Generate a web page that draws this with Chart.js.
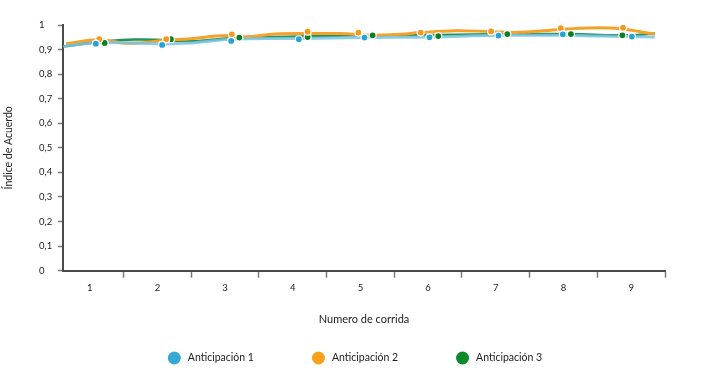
<!DOCTYPE html>
<html>
<head>
<meta charset="utf-8">
<title>Índice de Acuerdo por corrida</title>
<script src="https://cdn.jsdelivr.net/npm/chart.js@4.4.1/dist/chart.umd.min.js"></script>
<style>
  html, body { margin: 0; padding: 0; background: #fff; }
</style>
</head>
<body>
<canvas id="grafico" width="702" height="374"></canvas>
<script>
// Numeros de corrida (etiquetas del eje X) y limites entre corridas
const corridas = [1, 2, 3, 4, 5, 6, 7, 8, 9];
const limites = [1.5, 2.5, 3.5, 4.5, 5.5, 6.5, 7.5, 8.5, 9.5];

const nombres = ['Anticipación 1', 'Anticipación 2', 'Anticipación 3'];

// Puntos medidos (x = posicion dentro de la corrida)
const xAnt1 = [1.09, 2.07, 3.09, 4.09, 5.06, 6.02, 7.04, 7.99, 9.01];
const yAnt1 = [0.924, 0.919, 0.935, 0.942, 0.949, 0.950, 0.957, 0.962, 0.953];
const xAnt2 = [1.14, 2.13, 3.10, 4.22, 4.97, 5.89, 6.93, 7.96, 8.88];
const yAnt2 = [0.942, 0.942, 0.962, 0.973, 0.969, 0.969, 0.974, 0.987, 0.989];
const xAnt3 = [1.22, 2.20, 3.21, 4.22, 5.18, 6.15, 7.17, 8.11, 8.87];
const yAnt3 = [0.927, 0.942, 0.949, 0.951, 0.958, 0.955, 0.963, 0.963, 0.958];

// Curvas suavizadas de cada anticipacion
const xCurva1 = [0.61, 1.13, 2.07, 2.49, 3.08, 4.10, 5.05, 6.02, 7.03, 7.99, 8.54, 9.35];
const yCurva1 = [0.913, 0.928, 0.924, 0.927, 0.942, 0.945, 0.949, 0.951, 0.958, 0.958, 0.955, 0.951];
const xCurva2 = [0.65, 1.13, 1.48, 1.67, 2.13, 2.49, 2.86, 3.11, 3.30, 3.74, 4.21, 4.70, 5.17, 5.59, 5.88, 6.40, 6.92, 7.36, 7.95, 8.39, 8.83, 9.35];
const yCurva2 = [0.924, 0.940, 0.927, 0.926, 0.938, 0.944, 0.955, 0.957, 0.952, 0.963, 0.965, 0.965, 0.958, 0.962, 0.969, 0.977, 0.973, 0.970, 0.982, 0.988, 0.985, 0.963];
const xCurva3 = [0.61, 1.13, 1.67, 2.13, 2.49, 2.86, 3.21, 3.67, 4.21, 4.99, 6.15, 7.17, 8.11, 8.87, 9.35];
const yCurva3 = [0.913, 0.931, 0.941, 0.938, 0.934, 0.941, 0.949, 0.951, 0.954, 0.958, 0.959, 0.963, 0.963, 0.958, 0.965];

const coloresPunto = ['#27a2d4', '#f7981d', '#0c7d25'];
const coloresCurva = ['rgba(120, 196, 226, 0.85)', '#f8a128', '#23935a'];
const coloresLeyenda = ['#36a9d6', '#f9a11b', '#0b8a2b'];

const fuente = 'Lato, "Noto Sans", sans-serif';

function pares(xs, ys) {
  return xs.map((x, i) => ({ x: x, y: ys[i] }));
}

function curva(xs, ys, i, ancho) {
  return {
    type: 'line',
    label: nombres[i] + ' (curva)',
    data: pares(xs, ys),
    borderColor: coloresCurva[i],
    borderWidth: ancho,
    pointRadius: 0,
    tension: 0.4,
    fill: false,
    order: 2
  };
}

function puntos(xs, ys, i) {
  return {
    type: 'scatter',
    label: nombres[i],
    data: pares(xs, ys),
    showLine: false,
    pointRadius: 3.5,
    pointBackgroundColor: coloresPunto[i],
    pointBorderColor: '#ffffff',
    pointBorderWidth: 1.2,
    order: 1
  };
}

// leyenda con separacion amplia entre elementos
const leyenda = {
  id: 'leyenda',
  afterDraw(chart) {
    const c = chart.ctx;
    const y = chart.height - 16;
    const r = 6.5, sep = 7, gap = 58;
    c.save();
    c.font = '10.5px ' + fuente;
    const anchos = nombres.map(n => 2 * r + sep + c.measureText(n).width);
    const total = anchos.reduce((a, b) => a + b, 0) + gap * (nombres.length - 1);
    let x = chart.width / 2 + 4 - total / 2;
    nombres.forEach((n, i) => {
      c.beginPath();
      c.fillStyle = coloresLeyenda[i];
      c.arc(x + r, y, r, 0, Math.PI * 2);
      c.fill();
      c.fillStyle = '#222';
      c.textBaseline = 'middle';
      c.textAlign = 'left';
      c.fillText(n, x + 2 * r + sep, y);
      x += anchos[i] + gap;
    });
    c.restore();
  }
};

const ctx = document.getElementById('grafico').getContext('2d');
const chart = new Chart(ctx, {
  type: 'scatter',
  data: {
    datasets: [
      curva(xCurva1, yCurva1, 0, 3),
      curva(xCurva2, yCurva2, 1, 3),
      curva(xCurva3, yCurva3, 2, 2.5),
      puntos(xAnt1, yAnt1, 0),
      puntos(xAnt2, yAnt2, 1),
      puntos(xAnt3, yAnt3, 2)
    ]
  },
  options: {
    responsive: false,
    animation: false,
    devicePixelRatio: 1,
    // el eje Y empieza en x=39 (etiquetas alineadas a la izquierda), el titulo va mas a la izquierda
    layout: { padding: { top: 25, right: 37, bottom: 36, left: 39 } },
    plugins: {
      legend: { display: false },
      tooltip: { enabled: false }
    },
    scales: {
      x: {
        type: 'linear',
        min: 0.605,
        max: 9.5,
        afterBuildTicks: axis => {
          axis.ticks = corridas.concat(limites).sort((a, b) => a - b).map(v => ({ value: v }));
        },
        afterFit: scale => { scale.height = 67.3; },
        border: { color: '#4a4a4a', width: 2 },
        grid: {
          drawOnChartArea: false,
          tickLength: 7,
          tickWidth: 1.5,
          tickColor: c => (c.tick && Number.isInteger(c.tick.value)) ? 'rgba(0,0,0,0)' : '#7a7a7a'
        },
        ticks: {
          autoSkip: false,
          maxRotation: 0,
          padding: 5,
          color: '#222',
          font: { family: fuente, size: 9.5 },
          callback: v => Number.isInteger(v) ? String(v) : ''
        },
        title: {
          display: true,
          text: 'Numero de corrida',
          color: '#222',
          font: { family: fuente, size: 11 },
          padding: { top: 0, bottom: 12 }
        }
      },
      y: {
        min: 0,
        max: 1,
        afterFit: scale => { scale.width = 24; },
        border: { color: '#4a4a4a', width: 2 },
        grid: {
          drawOnChartArea: false,
          tickLength: 5,
          tickWidth: 1.5,
          tickColor: '#7a7a7a'
        },
        ticks: {
          stepSize: 0.1,
          crossAlign: 'far',
          padding: 6,
          color: '#222',
          font: { family: fuente, size: 9.5 },
          callback: v => String(Math.round(v * 10) / 10).replace('.', ',')
        },
        title: {
          display: true,
          text: 'Índice de Acuerdo',
          color: '#222',
          font: { family: fuente, size: 10.5 },
          padding: { top: -36.5, bottom: 0 }
        }
      }
    }
  },
  plugins: [leyenda]
});
</script>
</body>
</html>
